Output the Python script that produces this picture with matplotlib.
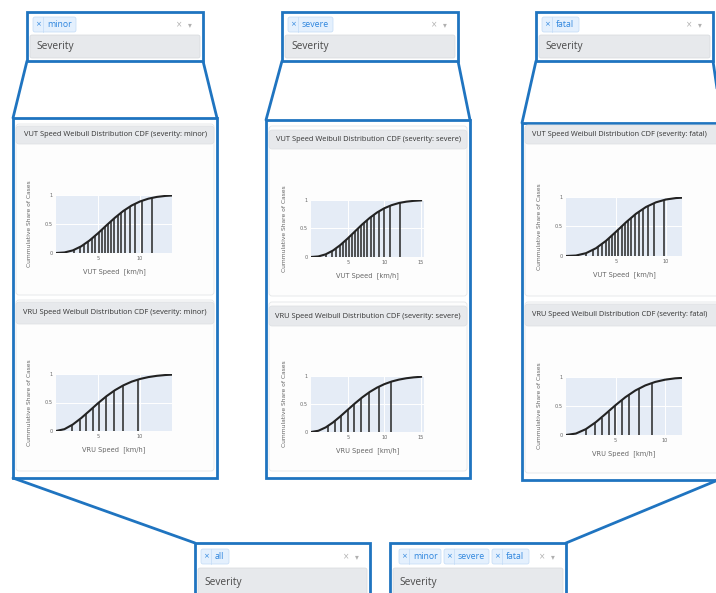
import matplotlib.pyplot as plt
from matplotlib.patches import Rectangle, FancyBboxPatch

# ---- data ----
speed_grid = [0, 1, 2, 3, 4, 5, 6, 7, 8, 9, 10, 11, 12, 13, 14, 15]

levels_vut = [0.05, 0.10, 0.15, 0.20, 0.25, 0.30, 0.35, 0.40, 0.45, 0.50,
              0.55, 0.60, 0.65, 0.70, 0.75, 0.80, 0.85, 0.90, 0.95]
levels_vru = [0.1, 0.2, 0.3, 0.4, 0.5, 0.6, 0.7, 0.8, 0.9]

# minor
vut_minor_cdf = [0, 0.009, 0.045, 0.115, 0.217, 0.341, 0.476, 0.607, 0.724,
                 0.819, 0.889, 0.937, 0.967, 0.984, 0.993]
vut_minor_stems = [2.09, 2.82, 3.38, 3.85, 4.28, 4.69, 5.07, 5.44, 5.81, 6.18,
                   6.56, 6.94, 7.35, 7.78, 8.25, 8.78, 9.40, 10.19, 11.37]
vru_minor_cdf = [0, 0.032, 0.114, 0.227, 0.356, 0.488, 0.610, 0.715, 0.800,
                 0.866, 0.913, 0.946, 0.968, 0.982, 0.990]
vru_minor_stems = [1.9, 2.85, 3.6, 4.4, 5.1, 5.9, 6.95, 8.0, 9.7]

# severe
vut_severe_cdf = [0, 0.010, 0.047, 0.114, 0.210, 0.325, 0.450, 0.574, 0.686,
                  0.781, 0.856, 0.910, 0.948, 0.971, 0.985, 0.993]
vut_severe_stems = [2.06, 2.82, 3.40, 3.91, 4.36, 4.79, 5.20, 5.60, 6.00, 6.40,
                    6.80, 7.22, 7.66, 8.13, 8.64, 9.22, 9.91, 10.78, 12.09]
vru_severe_cdf = [0, 0.022, 0.082, 0.171, 0.279, 0.396, 0.512, 0.620, 0.715,
                  0.793, 0.855, 0.902, 0.936, 0.960, 0.976, 0.986]
vru_severe_stems = [2.3, 3.3, 4.1, 5.0, 5.9, 6.8, 7.9, 9.3, 10.95]

# fatal
vut_fatal_cdf = [0, 0.008, 0.048, 0.132, 0.257, 0.411, 0.571, 0.716, 0.831,
                 0.910, 0.958, 0.982, 0.992]
vut_fatal_stems = [2.02, 2.68, 3.16, 3.58, 3.95, 4.29, 4.62, 4.93, 5.24, 5.55,
                   5.87, 6.19, 6.52, 6.88, 7.26, 7.70, 8.20, 8.84, 9.79]
vru_fatal_cdf = [0, 0.025, 0.101, 0.220, 0.365, 0.515, 0.653, 0.768, 0.855,
                 0.915, 0.954, 0.977, 0.988]
vru_fatal_stems = [2.0, 2.9, 3.6, 4.3, 4.9, 5.6, 6.4, 7.4, 8.7]

# ---- figure in pixel units ----
W, H = 716, 593
BLUE = '#1f74c0'
GREY_BAR = '#e7e9ec'
CHIP_BG = '#e4f0fd'
CHIP_EDGE = '#c2dbf6'
CHIP_TXT = '#2f86de'
TXT = '#4a4a4a'
TICK = '#666666'
PLOT_BG = '#e5ecf6'

fig = plt.figure(figsize=(W / 100, H / 100), dpi=100)
bg = fig.add_axes([0, 0, 1, 1])
bg.set_xlim(0, W)
bg.set_ylim(H, 0)
bg.axis('off')


def line(x0, y0, x1, y1):
    bg.plot([x0, x1], [y0, y1], color=BLUE, lw=2, solid_capstyle='round', zorder=2)


def dropdown(x0, y0, x1, y1, chips, row_h=23, top=23, fs=7.3):
    bg.add_patch(Rectangle((x0, y0), x1 - x0, y1 - y0, fc='white', ec=BLUE, lw=2, zorder=3))
    bg.add_patch(FancyBboxPatch((x0 + 3, y0 + top), x1 - x0 - 6, row_h,
                                boxstyle='round,pad=0,rounding_size=2',
                                fc=GREY_BAR, ec='#d6d9dc', lw=0.5, zorder=4))
    bg.text(x0 + 9, y0 + top + row_h / 2, 'Severity', fontsize=fs, color=TXT,
            va='center', ha='left', family='Open Sans', zorder=5)
    cy = y0 + top / 2 + 1
    for label, cx, cw in chips:
        bg.add_patch(FancyBboxPatch((cx, cy - 7.5), cw, 15,
                                    boxstyle='round,pad=0,rounding_size=2',
                                    fc=CHIP_BG, ec=CHIP_EDGE, lw=0.5, zorder=4))
        bg.plot([cx + 10, cx + 10], [cy - 7.5, cy + 7.5], color=CHIP_EDGE, lw=0.5, zorder=5)
        bg.text(cx + 5, cy, '×', fontsize=5, color=CHIP_TXT, ha='center', va='center', zorder=5)
        bg.text(cx + 14, cy, label, fontsize=6.3, color=CHIP_TXT, ha='left', va='center',
                family='Open Sans', zorder=5)
    bg.text(x1 - 24, cy, '×', fontsize=5.5, color='#b0b0b0', ha='center', va='center', zorder=5)
    bg.text(x1 - 13, cy, '▾', fontsize=5.5, color='#b0b0b0', ha='center', va='center', zorder=5)


def card(x0, y0, x1, y1, bar_y0, bar_y1, title, text_x=None):
    bg.add_patch(FancyBboxPatch((x0, y0), x1 - x0, y1 - y0,
                                boxstyle='round,pad=0,rounding_size=3',
                                fc='#fdfdfd', ec='#e4e6e8', lw=0.6, zorder=3))
    bg.add_patch(FancyBboxPatch((x0, bar_y0), x1 - x0, bar_y1 - bar_y0,
                                boxstyle='round,pad=0,rounding_size=3',
                                fc=GREY_BAR, ec='#dcdfe2', lw=0.5, zorder=4))
    if text_x is None:
        bg.text((x0 + x1) / 2, (bar_y0 + bar_y1) / 2, title, fontsize=5.4, color='#333333',
                ha='center', va='center', family='Open Sans', zorder=5)
    else:
        bg.text(text_x, (bar_y0 + bar_y1) / 2, title, fontsize=5.3, color='#333333',
                ha='left', va='center', family='Open Sans', zorder=5)


def chart(x0, y0, x1, y1, xmax, xticks, grid, cdf, stems, levels, xlabel):
    ax = fig.add_axes([x0 / W, 1 - y1 / H, (x1 - x0) / W, (y1 - y0) / H])
    ax.set_facecolor(PLOT_BG)
    ax.plot(grid[:len(cdf)], cdf, color='#222222', lw=1.5, zorder=3)
    ax.vlines(stems, 0, levels, color='#262626', lw=1.1, zorder=3)
    ax.set_xlim(0, xmax)
    ax.set_ylim(0, 1)
    ax.set_xticks(xticks)
    ax.set_xticklabels([str(t) for t in xticks])
    ax.set_yticks([0, 0.5, 1])
    ax.set_yticklabels(['0', '0.5', '1'])
    ax.grid(color='white', lw=0.7)
    ax.set_axisbelow(True)
    for s in ax.spines.values():
        s.set_visible(False)
    ax.tick_params(length=0, labelsize=3.6, colors=TICK, pad=2.5)
    w, h = x1 - x0, y1 - y0
    ax.set_ylabel('Cummulative Share of Cases', fontsize=4.3, color=TICK)
    ax.yaxis.set_label_coords(-24 / w, 0.5)
    ax.set_xlabel(xlabel, fontsize=4.8, color=TICK, va='center')
    ax.xaxis.set_label_coords(0.5, -19 / h)
    return ax


# top dropdowns
dropdown(27, 12, 203, 61, [('minor', 33, 43)])
dropdown(282, 12, 458, 61, [('severe', 288, 45)])
dropdown(536, 12, 713, 61, [('fatal', 542, 37)])

# zoom-out trapezoids
line(27, 61, 13, 118)
line(203, 61, 217, 118)
line(282, 61, 266, 120)
line(458, 61, 470, 120)
line(536, 61, 522, 123)
line(713, 61, 722, 123)

# panels
bg.add_patch(Rectangle((13, 118), 204, 360, fc='white', ec=BLUE, lw=2, zorder=2))
bg.add_patch(Rectangle((266, 120), 204, 358, fc='white', ec=BLUE, lw=2, zorder=2))
bg.add_patch(Rectangle((522, 123), 210, 357, fc='white', ec=BLUE, lw=2, zorder=2))

card(16, 124, 214, 295, 126, 144, 'VUT Speed Weibull Distribution CDF (severity: minor)')
card(16, 300, 214, 471, 302, 324, 'VRU Speed Weibull Distribution CDF (severity: minor)')
card(269, 126, 467, 296, 130, 149, 'VUT Speed Weibull Distribution CDF (severity: severe)')
card(269, 302, 467, 471, 306, 326, 'VRU Speed Weibull Distribution CDF (severity: severe)')
card(525, 126, 736, 296, 125, 144, 'VUT Speed Weibull Distribution CDF (severity: fatal)',
     text_x=532)
card(525, 302, 736, 473, 304, 326, 'VRU Speed Weibull Distribution CDF (severity: fatal)',
     text_x=532)

# bottom connectors and dropdowns
line(13, 478, 195, 543)
line(718, 480, 566, 543)
dropdown(195, 543, 370, 605, [('all', 201, 28)], row_h=30, top=25)
dropdown(390, 543, 566, 605, [('minor', 399, 42), ('severe', 444, 45), ('fatal', 492, 37)],
         row_h=30, top=25)

# charts
chart(56, 195, 172, 253, 13.8, [5, 10], speed_grid, vut_minor_cdf, vut_minor_stems,
      levels_vut, 'VUT Speed  [km/h]')
chart(56, 374, 172, 431, 13.8, [5, 10], speed_grid, vru_minor_cdf, vru_minor_stems,
      levels_vru, 'VRU Speed  [km/h]')
chart(311, 200, 424, 257, 15.4, [5, 10, 15], speed_grid, vut_severe_cdf, vut_severe_stems,
      levels_vut, 'VUT Speed  [km/h]')
chart(311, 376, 424, 432, 15.4, [5, 10, 15], speed_grid, vru_severe_cdf, vru_severe_stems,
      levels_vru, 'VRU Speed  [km/h]')
chart(566, 197, 682, 256, 11.6, [5, 10], speed_grid, vut_fatal_cdf, vut_fatal_stems,
      levels_vut, 'VUT Speed  [km/h]')
chart(566, 377, 682, 435, 11.7, [5, 10], speed_grid, vru_fatal_cdf, vru_fatal_stems,
      levels_vru, 'VRU Speed  [km/h]')

fig.savefig('out.png', dpi=100)
